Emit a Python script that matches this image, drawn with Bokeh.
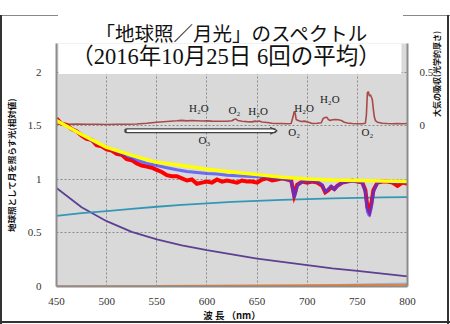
from bokeh.plotting import figure
from bokeh.models import Range1d, LinearAxis, FixedTicker, Label, Arrow, OpenHead, BoxAnnotation, Title
from bokeh.embed import file_html
from bokeh.resources import INLINE
import math

# ---------------- data ----------------
x_ticks = [450, 500, 550, 600, 650, 700, 750, 800]
y_ticks = [0, 0.5, 1, 1.5, 2]
y2_ticks = [0, 0.5]

wl_red = [450, 455, 460, 465, 470, 475, 480, 485, 490, 495,
          500, 505, 510, 515, 520, 525, 530, 535, 540, 545,
          550, 555, 560, 565, 570, 575, 580, 585, 590, 595,
          600, 605, 610, 615, 620, 625, 630, 635, 640, 645,
          650, 655, 660, 665, 670, 675, 680,
          684, 686, 687, 688, 690,
          695, 700, 705, 710, 715,
          718, 721, 724, 727, 730,
          735, 740, 745, 750, 755,
          758, 760, 762, 764, 766,
          770, 775, 780, 785, 790, 795, 800]
red = [1.57, 1.52, 1.51, 1.47, 1.45, 1.41, 1.38, 1.37, 1.32, 1.31,
       1.28, 1.27, 1.24, 1.23, 1.19, 1.18, 1.15, 1.13, 1.12, 1.11,
       1.09, 1.07, 1.04, 1.03, 1.03, 1.01, 0.99, 1.00, 0.96, 0.97,
       0.98, 0.97, 1.00, 0.98, 0.99, 0.98, 0.97, 0.99, 0.98, 0.98,
       0.97, 1.00, 1.01, 0.99, 1.00, 1.01, 1.00,
       0.99, 0.90, 0.85, 0.88, 0.95,
       0.98, 0.97, 0.98, 0.97, 0.94,
       0.88, 0.90, 0.93, 0.91, 0.94,
       0.97, 0.98, 0.99, 0.98, 0.97,
       0.90, 0.74, 0.70, 0.78, 0.90,
       0.97, 0.98, 0.98, 0.97, 0.94, 0.97, 0.96]

wl_blue = [450, 460, 470, 480, 490, 500, 510, 520, 530, 540,
           550, 560, 570, 580, 590, 600, 610, 620, 630, 640,
           650, 660, 670, 680,
           684, 686, 687, 688, 690,
           695, 700, 705, 710, 715,
           718, 721, 724, 727, 730,
           735, 740, 745, 750, 755,
           758, 760, 762, 764, 766,
           770, 775, 780, 785, 790, 795, 800]
blue = [1.55, 1.50, 1.45, 1.39, 1.34, 1.30, 1.26, 1.22, 1.18, 1.15,
        1.13, 1.11, 1.09, 1.075, 1.065, 1.055, 1.05, 1.04, 1.035, 1.03,
        1.025, 1.02, 1.01, 1.00,
        0.99, 0.88, 0.83, 0.86, 0.94,
        0.98, 0.98, 0.98, 0.98, 0.95,
        0.88, 0.91, 0.94, 0.90, 0.94,
        0.97, 0.98, 0.98, 0.98, 0.97,
        0.88, 0.70, 0.66, 0.74, 0.88,
        0.97, 0.98, 0.98, 0.97, 0.97, 0.975, 0.975]

wl_smooth = [450, 475, 500, 525, 550, 575, 600, 625, 650, 675, 700, 725, 750, 775, 800]
yellow = [1.55, 1.42, 1.30, 1.225, 1.16, 1.13, 1.095, 1.07, 1.045, 1.02, 1.005, 0.995, 0.99, 0.985, 0.98]
teal = [0.66, 0.685, 0.705, 0.725, 0.745, 0.762, 0.777, 0.79, 0.80, 0.81, 0.817, 0.823, 0.828, 0.832, 0.835]
purple = [0.92, 0.74, 0.61, 0.51, 0.44, 0.385, 0.34, 0.30, 0.26, 0.23, 0.20, 0.17, 0.145, 0.12, 0.095]

wl_low = [450, 500, 550, 600, 650, 700, 750, 800]
orange = [0.0, 0.002, 0.004, 0.008, 0.010, 0.012, 0.014, 0.016]
lightblue = [0.0, 0.0, 0.0, 0.0, 0.002, 0.008, 0.018, 0.028]

wl_abs = [450, 460, 470, 480, 490, 500, 510, 520, 530, 540,
          550, 560, 570, 575, 580, 585, 590, 595, 600, 605,
          610, 615, 620, 625, 627, 629, 631, 635, 640, 645,
          648, 650, 652, 655, 660, 665, 670, 675, 680, 684,
          686, 687, 688, 689, 691, 694, 697, 700, 705, 710,
          714, 716, 718, 720, 721, 723, 725, 728, 731, 734,
          737, 740, 745, 750, 755, 758, 759, 760, 761, 762,
          763, 764, 765, 766, 767, 768, 770, 775, 780, 785,
          790, 795, 800]
absorb = [0.015, 0.015, 0.018, 0.016, 0.015, 0.014, 0.015, 0.016, 0.018, 0.025,
          0.035, 0.042, 0.048, 0.052, 0.047, 0.050, 0.048, 0.046, 0.047, 0.045,
          0.044, 0.043, 0.044, 0.048, 0.060, 0.064, 0.050, 0.044, 0.040, 0.038,
          0.045, 0.042, 0.046, 0.037, 0.032, 0.025, 0.022, 0.022, 0.020, 0.022,
          0.090, 0.135, 0.120, 0.060, 0.050, 0.042, 0.045, 0.038, 0.022, 0.025,
          0.030, 0.070, 0.080, 0.078, 0.060, 0.050, 0.058, 0.060, 0.058, 0.050,
          0.035, 0.027, 0.022, 0.020, 0.020, 0.025, 0.100, 0.310, 0.320, 0.280,
          0.290, 0.270, 0.240, 0.150, 0.080, 0.050, 0.035, 0.025, 0.022, 0.020,
          0.022, 0.020, 0.022]

species = ["H₂O", "O₂", "H₂O", "H₂O", "O₂", "H₂O", "O₂", "O₃"]
species_x = [592, 627.5, 651, 697, 687, 722.5, 760, 597.5]
species_y = [1.664, 1.645, 1.636, 1.664, 1.445, 1.755, 1.445, 1.373]

title1 = "「地球照／月光」のスペクトル"
title2 = "（2016年10月25日 6回の平均）"
ylabel = "地球照として月を照らす光(相対値)"
y2label = "大気の吸収(光学的厚さ)"
xlabel = "波 長 （nm）"

# ---------------- figure ----------------
p = figure(width=450, height=324, output_backend="svg", toolbar_location=None,
           title=None,
           x_range=Range1d(450, 800), y_range=Range1d(0, 2.27),
           min_border_left=56, min_border_right=41, min_border_top=43, min_border_bottom=31)
p.border_fill_color = None
p.outline_line_color = None
p.background_fill_color = "#d9d9d9"
p.styles = {
    "background": (
        "linear-gradient(#333,#333) left 0px top 15px / 2px 309px no-repeat,"
        "linear-gradient(#333,#333) left 447px top 15px / 2px 309px no-repeat,"
        "linear-gradient(#333,#333) left 0px top 321px / 450px 2px no-repeat,"
        "linear-gradient(#888,#888) left 0px top 15px / 58px 1px no-repeat,"
        "linear-gradient(#888,#888) left 403px top 15px / 47px 1px no-repeat,"
        "white"
    )
}

p.extra_y_ranges = {"abs": Range1d(-1.5, 0.77)}

for ax in [p.xaxis[0], p.yaxis[0]]:
    ax.axis_line_color = "#8c8c8c"
    ax.axis_line_width = 2
    ax.major_tick_line_color = None
    ax.minor_tick_line_color = None
    ax.major_label_text_font = "Liberation Serif"
    ax.major_label_text_font_size = "11px"
    ax.major_label_text_color = "#333333"

p.xaxis.ticker = FixedTicker(ticks=x_ticks)
p.xaxis.major_label_standoff = 5
p.xaxis.axis_label = xlabel
p.xaxis.axis_label_text_font = "Noto Sans CJK JP"
p.xaxis.axis_label_text_font_style = "bold"
p.xaxis.axis_label_text_font_size = "9.5px"
p.xaxis.axis_label_text_color = "#111111"
p.xaxis.axis_label_standoff = 0

p.yaxis.ticker = FixedTicker(ticks=y_ticks)
p.yaxis.major_label_overrides = {t: ("%g" % t) for t in y_ticks}
p.yaxis.major_label_standoff = 9
p.yaxis.axis_label = ylabel
p.yaxis.axis_label_text_font = "Noto Sans CJK JP"
p.yaxis.axis_label_text_font_style = "bold"
p.yaxis.axis_label_text_font_size = "8.5px"
p.yaxis.axis_label_text_color = "#111111"
p.yaxis.axis_label_standoff = 8

ax2 = LinearAxis(y_range_name="abs", ticker=FixedTicker(ticks=y2_ticks))
ax2.axis_line_color = "#8c8c8c"
ax2.axis_line_width = 2
ax2.major_tick_line_color = None
ax2.minor_tick_line_color = None
ax2.major_label_text_font = "Liberation Serif"
ax2.major_label_text_font_size = "11px"
ax2.major_label_text_color = "#333333"
ax2.major_label_standoff = 6
ax2.major_label_overrides = {t: ("%g" % t) for t in y2_ticks}
# reads bottom-to-top in the upper half of the axis, as in the reference
ax2.axis_label = "\u3000" * 6 + y2label
ax2.axis_label_text_font = "Noto Sans CJK JP"
ax2.axis_label_text_font_style = "bold"
ax2.axis_label_text_font_size = "8px"
ax2.axis_label_text_color = "#111111"
ax2.axis_label_standoff = 0
try:
    ax2.axis_label_orientation = math.pi / 2
except Exception:
    pass
p.add_layout(ax2, "right")

p.xgrid.ticker = FixedTicker(ticks=x_ticks)
p.ygrid.ticker = FixedTicker(ticks=y_ticks)
for g in [p.xgrid[0], p.ygrid[0]]:
    g.grid_line_color = "#8a8a8a"
    g.grid_line_dash = "2 2"
    g.grid_line_width = 1

# ---------------- series ----------------
p.line(wl_low, lightblue, line_color="#9db8e0", line_width=2)
p.line(wl_low, orange, line_color="#ed7d31", line_width=2)
p.line(wl_smooth, purple, line_color="#5e3f92", line_width=1.8)
p.line(wl_smooth, teal, line_color="#3497b5", line_width=1.8)
p.line(wl_abs, absorb, y_range_name="abs", line_color="#a94a4a", line_width=1.6)
p.line(wl_red, red, line_color="#ff0000", line_width=4, line_join="miter")
p.line(wl_blue, blue, line_color="#3c3cff", line_width=3, line_alpha=0.7)
p.line(wl_smooth, yellow, line_color="#ffff00", line_width=3.5)

# O3 band arrow (hollow)
p.add_layout(Arrow(end=None, x_start=520, y_start=1.455, x_end=667, y_end=1.455,
                   line_color="#444444", line_width=5, line_cap="round"))
p.add_layout(Arrow(end=None, x_start=521, y_start=1.455, x_end=668, y_end=1.455,
                   line_color="white", line_width=2.4, line_cap="round"))
p.add_layout(Arrow(end=OpenHead(size=7, line_color="#444444", line_width=1.3),
                   x_start=640, y_start=1.455, x_end=670, y_end=1.455, line_alpha=0))

for t, x, y in zip(species, species_x, species_y):
    p.add_layout(Label(x=x, y=y, text=t, text_align="center", text_baseline="middle",
                       text_font="Liberation Serif", text_font_size="11px", text_color="#222222"))

# title box (inside the frame) and titles
p.add_layout(BoxAnnotation(left=452, right=794, bottom=1.985, fill_color="white", fill_alpha=1.0,
                           line_color=None))
p.add_layout(Label(x=619, y=2.145, text=title2, text_align="center", text_baseline="middle",
                   text_font="'Liberation Serif', 'Noto Sans CJK JP'", text_font_size="22.5px",
                   text_color="#111111"))
p.add_layout(Title(text=title1, align="center", vertical_align="bottom", standoff=-6,
                   text_font="Noto Sans CJK JP", text_font_size="19.5px", text_font_style="normal",
                   text_color="#111111"), "above")

open("out.html", "w").write(file_html(p, INLINE))
